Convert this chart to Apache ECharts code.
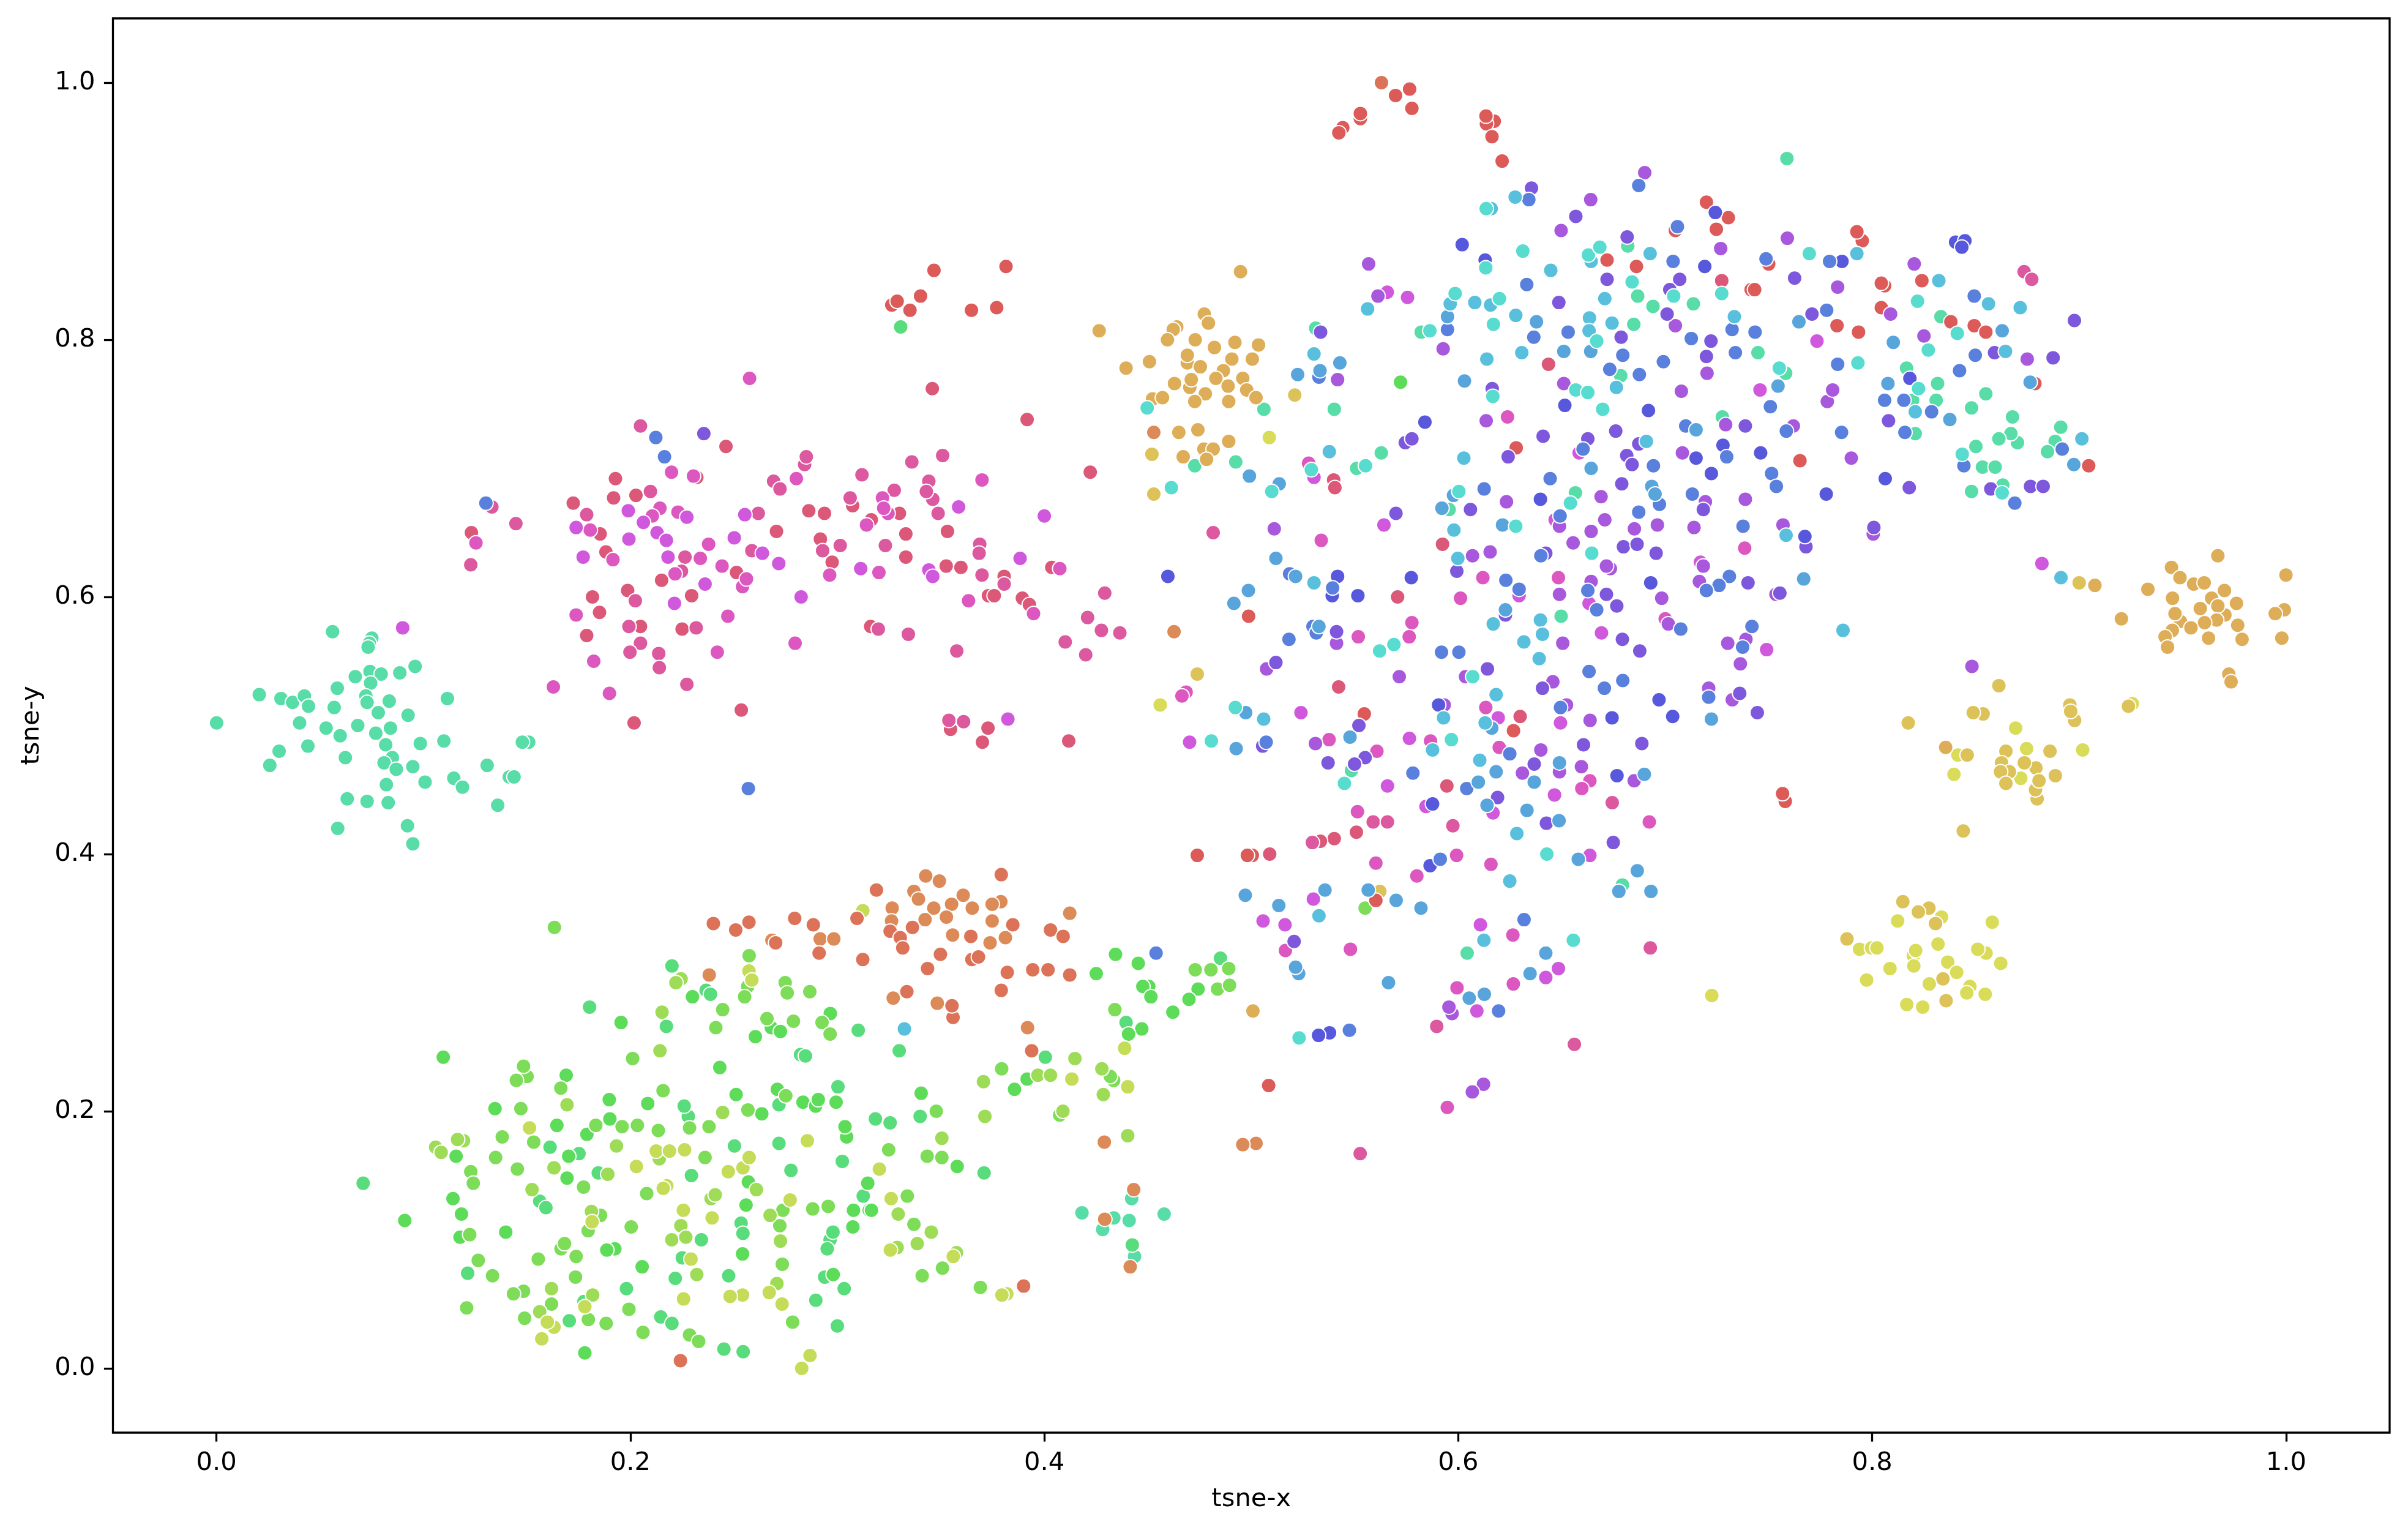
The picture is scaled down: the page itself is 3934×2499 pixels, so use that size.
<!DOCTYPE html>
<html>
<head>
<meta charset="utf-8">
<title>tsne</title>
<style>
  html, body { margin: 0; padding: 0; background: #fff; }
  #chart { width: 3934px; height: 2499px; }
</style>
<script src="https://cdn.jsdelivr.net/npm/echarts@6/dist/echarts.min.js"></script>
</head>
<body>
<div id="chart"></div>
<script>
// tick labels
const tickValues = [0, 0.2, 0.4, 0.6, 0.8, 1.0]

// label order, same order as the hue wheel
const labels = ['te','gt','gr','li','ol','yg','ye','go','ta','or','ro','re','cr','pi','mp','ma','pu','vi','in','bl','sk','cy','aq']

// points are [tsne-x, tsne-y, label], one region at a time
const leftCluster = [
  [.0561,.573,'te'],[.0751,.568,'te'],[.0739,.564,'te'],[.0733,.561,'te'],[.096,.546,'te'],[.0742,.542,'te'],[.0796,.54,'te'],[.0886,.541,'te'],
  [.0671,.538,'te'],[.0745,.533,'te'],[.0584,.529,'te'],[.0207,.524,'te'],[.0312,.521,'te'],[.0368,.518,'te'],[.0425,.523,'te'],[.0445,.515,'te'],
  [.0722,.523,'te'],[.0728,.518,'te'],[.0835,.519,'te'],[.1116,.521,'te'],[.0569,.514,'te'],[.0782,.51,'te'],[.0926,.508,'te'],[.0402,.502,'te'],
  [.0001,.502,'te'],[.053,.498,'te'],[.0683,.5,'te'],[.0841,.498,'te'],[.077,.494,'te'],[.0598,.492,'te'],[.0818,.485,'te'],[.0985,.486,'te'],
  [.1099,.488,'te'],[.0442,.484,'te'],[.0303,.48,'te'],[.0258,.469,'te'],[.0623,.475,'te'],[.085,.475,'te'],[.081,.471,'te'],[.0869,.466,'te'],
  [.0949,.468,'te'],[.1308,.469,'te'],[.1509,.487,'te'],[.1478,.487,'te'],[.1008,.456,'te'],[.0821,.454,'te'],[.1147,.459,'te'],[.1189,.452,'te'],
  [.1415,.46,'te'],[.1438,.46,'te'],[.0632,.443,'te'],[.0728,.441,'te'],[.083,.44,'te'],[.1359,.438,'te'],[.0586,.42,'te'],[.0923,.422,'te'],[.0949,.408,'te']
]

const pinkCluster = [
  [.09,.576,'ma'],[.1628,.53,'mp'],[.1899,.525,'mp'],[.2273,.532,'pi'],[.2536,.512,'cr'],[.2018,.502,'cr'],[.257,.451,'bl'],[.1302,.673,'bl'],[.1331,.67,'pi'],
  [.1447,.657,'pi'],[.1254,.642,'mp'],[.1232,.65,'cr'],[.1229,.625,'pi'],[.2049,.733,'pi'],[.2123,.724,'bl'],[.2355,.727,'vi'],[.2462,.717,'cr'],[.2165,.709,'bl'],
  [.2576,.77,'mp'],[.3459,.762,'cr'],[.3917,.738,'cr'],[.4222,.697,'cr'],[.1928,.692,'cr'],[.2199,.697,'mp'],[.2305,.694,'mp'],[.2321,.693,'cr'],[.1724,.673,'cr'],
  [.1919,.677,'cr'],[.2027,.679,'cr'],[.2097,.682,'pi'],[.2692,.69,'pi'],[.2723,.684,'pi'],[.2842,.703,'pi'],[.285,.709,'pi'],[.2802,.692,'mp'],[.3119,.695,'pi'],
  [.336,.705,'pi'],[.3509,.71,'pi'],[.3699,.691,'mp'],[.3442,.69,'pi'],[.3461,.676,'pi'],[.343,.682,'pi'],[.3275,.683,'pi'],[.3218,.677,'mp'],[.3245,.665,'mp'],
  [.3224,.669,'mp'],[.33,.665,'cr'],[.3062,.677,'pi'],[.3074,.671,'cr'],[.3586,.67,'ma'],[.3487,.665,'pi'],[.1789,.664,'pi'],[.199,.667,'ma'],[.2143,.669,'mp'],
  [.223,.666,'mp'],[.2273,.662,'ma'],[.2106,.663,'mp'],[.2063,.658,'ma'],[.2553,.664,'ma'],[.2618,.665,'pi'],[.2862,.667,'cr'],[.2938,.665,'cr'],[.3141,.656,'mp'],
  [.3164,.66,'cr'],[.1738,.654,'ma'],[.1806,.652,'mp'],[.1854,.649,'cr'],[.2129,.65,'ma'],[.2174,.644,'ma'],[.1993,.645,'ma'],[.2378,.641,'mp'],[.2502,.646,'ma'],
  [.2706,.651,'cr'],[.2929,.636,'pi'],[.2918,.645,'cr'],[.3014,.64,'pi'],[.3232,.64,'pi'],[.3331,.649,'cr'],[.3532,.651,'cr'],[.1772,.631,'ma'],[.1916,.629,'mp'],
  [.1882,.635,'cr'],[.2182,.631,'ma'],[.2264,.631,'pi'],[.2338,.63,'mp'],[.2638,.634,'ma'],[.2587,.636,'pi'],[.2717,.626,'ma'],[.2975,.627,'cr'],[.3331,.631,'cr'],
  [.3688,.641,'pi'],[.3685,.634,'pi'],[.3883,.63,'ma'],[.2443,.624,'mp'],[.2513,.619,'cr'],[.2542,.608,'mp'],[.2561,.614,'mp'],[.2216,.618,'mp'],[.2247,.62,'pi'],
  [.2151,.613,'cr'],[.2361,.61,'ma'],[.2296,.601,'cr'],[.1987,.605,'cr'],[.1817,.6,'cr'],[.2024,.597,'pi'],[.2213,.595,'ma'],[.2825,.6,'ma'],[.1738,.586,'mp'],
  [.1851,.588,'cr'],[.2471,.585,'mp'],[.1993,.577,'pi'],[.2049,.577,'cr'],[.2318,.576,'pi'],[.225,.575,'cr'],[.1789,.57,'cr'],[.2049,.564,'pi'],[.1998,.557,'pi'],
  [.2137,.556,'pi'],[.242,.557,'mp'],[.1823,.55,'mp'],[.214,.545,'pi'],[.2796,.564,'mp'],[.3198,.575,'pi'],[.3161,.577,'cr'],[.3343,.571,'pi'],[.3577,.558,'pi'],
  [.3113,.622,'ma'],[.3201,.619,'mp'],[.2963,.617,'mp'],[.3442,.621,'ma'],[.3461,.616,'ma'],[.3526,.624,'cr'],[.3597,.623,'cr'],[.3699,.617,'pi'],[.3806,.61,'pi'],
  [.3806,.616,'cr'],[.3634,.597,'mp'],[.373,.601,'cr'],[.3758,.601,'cr'],[.3894,.599,'cr'],[.3948,.587,'mp'],[.3928,.594,'cr'],[.4036,.623,'cr'],[.4075,.622,'mp'],
  [.4292,.603,'pi'],[.4209,.584,'pi'],[.4276,.574,'pi'],[.4365,.572,'pi'],[.4101,.565,'pi'],[.42,.555,'pi'],[.4,.663,'ma'],[.4816,.65,'pi'],
  [.3539,.504,'pi'],[.361,.503,'pi'],[.3547,.497,'cr'],[.3728,.498,'cr'],[.3824,.505,'ma'],[.3701,.487,'cr'],[.4118,.488,'cr'],[.4702,.487,'ma'],[.4685,.526,'mp'],[.4665,.523,'mp']
]

const redTop = [
  [.5629,1.0,'ro'],[.5697,.99,'re'],[.5765,.995,'re'],[.5776,.98,'re'],[.5527,.972,'re'],[.5527,.976,'re'],[.5442,.965,'re'],[.5423,.961,'re'],[.6174,.97,'re'],
  [.6136,.968,'re'],[.6134,.974,'re'],[.6163,.958,'re'],[.6212,.939,'re'],[.3467,.854,'re'],[.3815,.857,'re'],[.3402,.834,'re'],[.3263,.827,'re'],[.3289,.83,'re'],
  [.3351,.823,'re'],[.3648,.823,'re'],[.377,.825,'re'],[.3306,.81,'gt']
]

const tanCluster = [
  [.4948,.853,'ta'],[.4265,.807,'ta'],[.4773,.82,'ta'],[.4793,.813,'ta'],[.464,.81,'ta'],[.4623,.808,'ta'],[.4595,.8,'ta'],[.4729,.8,'ta'],[.4822,.794,'ta'],[.4921,.798,'ta'],
  [.5035,.796,'ta'],[.4691,.782,'ta'],[.4691,.788,'ta'],[.4754,.779,'ta'],[.4906,.785,'ta'],[.5005,.785,'ta'],[.4508,.783,'ta'],[.4395,.778,'ta'],[.4865,.776,'ta'],[.4829,.77,'ta'],
  [.4959,.77,'ta'],[.4703,.763,'ta'],[.471,.769,'ta'],[.4629,.766,'ta'],[.4888,.764,'ta'],[.4978,.761,'ta'],[.4778,.758,'ta'],[.5023,.755,'ta'],[.4523,.754,'ta'],[.4571,.755,'ta'],
  [.4727,.752,'ta'],[.4891,.752,'ta'],[.521,.757,'go'],[.4497,.747,'aq'],[.5061,.746,'te'],[.4742,.73,'ta'],[.465,.728,'ta'],[.4529,.728,'or'],[.5087,.724,'ye'],[.4891,.721,'ta'],
  [.4771,.715,'ta'],[.4816,.715,'ta'],[.452,.711,'go'],[.4784,.707,'ta'],[.4671,.709,'ta'],[.4727,.702,'te'],[.4925,.705,'te'],[.4991,.694,'sk'],[.4529,.68,'go'],[.4614,.685,'aq'],
  [.5099,.682,'aq'],[.5135,.688,'sk'],[.4627,.573,'or'],[.4597,.616,'in'],[.4986,.605,'sk'],[.4916,.595,'sk'],[.4987,.585,'re'],[.4739,.54,'go'],[.456,.516,'ye'],
  [.4923,.514,'aq'],[.4973,.51,'sk'],[.506,.505,'cy']
]

const midUpper = [
  [.7588,.941,'te'],[.6901,.93,'pu'],[.6872,.92,'bl'],[.6354,.918,'vi'],[.6275,.911,'cy'],[.6341,.909,'bl'],[.664,.909,'pu'],[.6135,.902,'aq'],[.6159,.902,'cy'],[.7199,.907,'re'],
  [.7242,.899,'in'],[.7305,.895,'re'],[.7059,.888,'bl'],[.7049,.885,'re'],[.7247,.886,'re'],[.6568,.896,'vi'],[.6497,.885,'pu'],[.7952,.877,'re'],[.7926,.884,'re'],[.759,.879,'pu'],
  [.8403,.876,'in'],[.8448,.877,'in'],[.8433,.872,'in'],[.6019,.874,'in'],[.6629,.866,'aq'],[.6684,.872,'aq'],[.6819,.873,'te'],[.6816,.88,'vi'],[.6312,.869,'aq'],[.7268,.871,'pu'],
  [.6642,.861,'cy'],[.6719,.862,'re'],[.6927,.867,'cy'],[.6133,.856,'aq'],[.613,.862,'in'],[.7038,.861,'bl'],[.7191,.857,'in'],[.6861,.857,'re'],[.7487,.863,'bl'],[.75,.859,'re'],
  [.7696,.867,'aq'],[.7794,.861,'bl'],[.7854,.861,'in'],[.7926,.867,'cy'],[.8203,.859,'pu'],[.6447,.854,'cy'],[.5567,.859,'pu'],[.8734,.853,'pi'],[.8771,.847,'pi'],[.6719,.847,'vi'],
  [.707,.847,'vi'],[.7273,.846,'cr'],[.684,.845,'aq'],[.6331,.843,'bl'],[.7625,.848,'vi'],[.7833,.841,'pu'],[.806,.842,'re'],[.8044,.844,'re'],[.824,.846,'re'],[.8322,.846,'cy'],
  [.8493,.834,'bl'],[.7041,.834,'aq'],[.7022,.839,'vi'],[.7273,.836,'aq'],[.7415,.839,'re'],[.7432,.839,'re'],[.6867,.834,'te'],[.5612,.834,'pu'],[.5657,.837,'ma'],[.5755,.833,'ma'],
  [.5985,.836,'aq'],[.5961,.828,'cy'],[.608,.829,'cy'],[.6199,.832,'aq'],[.6156,.827,'cy'],[.6486,.829,'vi'],[.6708,.832,'cy'],[.7136,.828,'te'],[.6941,.826,'te'],[.8562,.828,'cy'],
  [.8715,.825,'cy'],[.8219,.83,'aq'],[.5562,.824,'cy'],[.5948,.818,'sk'],[.6278,.819,'cy'],[.6634,.817,'cy'],[.7009,.82,'vi'],[.7334,.818,'cy'],[.778,.823,'bl'],[.7709,.82,'vi'],
  [.8089,.82,'pu'],[.8044,.825,'re'],[.8332,.818,'te'],[.838,.814,'re'],[.8977,.815,'vi'],[.7646,.814,'sk'],[.6378,.814,'sk'],[.6743,.813,'cy'],[.6848,.812,'te'],[.617,.812,'aq'],
  [.7049,.811,'pu'],[.783,.811,'re'],[.8493,.811,'re'],[.8549,.806,'re'],[.7934,.806,'re'],[.8411,.805,'aq'],[.8628,.807,'sk'],[.5311,.809,'te'],[.5335,.806,'vi'],[.5821,.806,'te'],
  [.5863,.807,'aq'],[.5948,.808,'bl'],[.6531,.806,'bl'],[.6632,.807,'cy'],[.7126,.801,'bl'],[.7221,.799,'vi'],[.7323,.808,'bl'],[.7434,.806,'bl'],[.825,.803,'pu'],[.8102,.798,'sk'],
  [.7733,.799,'ma'],[.6787,.802,'vi'],[.6365,.802,'bl'],[.6669,.799,'aq'],[.8271,.792,'aq'],[.8644,.791,'cy'],[.8498,.788,'bl'],[.8591,.79,'vi'],[.8874,.786,'vi'],[.8749,.785,'pu'],
  [.8422,.776,'bl'],[.7931,.782,'aq'],[.7833,.781,'bl'],[.7448,.79,'te'],[.7339,.79,'bl'],[.7199,.787,'vi'],[.6991,.783,'bl'],[.6795,.788,'bl'],[.664,.791,'sk'],[.651,.791,'sk'],
  [.6307,.79,'cy'],[.6138,.785,'cy'],[.5927,.793,'pu'],[.6436,.781,'cr'],[.6732,.777,'bl'],[.6785,.772,'te'],[.6875,.773,'bl'],[.7202,.774,'pu'],[.7582,.774,'te'],[.7551,.778,'aq'],
  [.8166,.778,'te'],[.8182,.77,'in'],[.8076,.766,'sk'],[.8316,.766,'te'],[.8763,.767,'sk'],[.8786,.766,'re'],[.8224,.762,'aq'],[.7545,.764,'sk'],[.7458,.761,'ma'],[.7783,.752,'pu'],
  [.7809,.761,'pu'],[.8549,.758,'te'],[.806,.753,'bl'],[.8195,.753,'te'],[.8153,.753,'bl'],[.8309,.753,'te'],[.8208,.744,'cy'],[.8287,.744,'bl'],[.848,.747,'te'],[.8678,.74,'te'],
  [.8375,.738,'sk'],[.8911,.732,'te'],[.8079,.737,'vi'],[.8702,.72,'te'],[.867,.727,'te'],[.8612,.723,'te'],[.8208,.727,'te'],[.8158,.728,'bl'],[.7852,.728,'bl'],[.8884,.721,'te'],
  [.8847,.713,'te'],[.8918,.715,'bl'],[.9013,.723,'cy'],[.8501,.717,'te'],[.8435,.711,'aq'],[.8443,.702,'bl'],[.8533,.701,'te'],[.8594,.701,'te'],[.8974,.703,'sk'],[.9046,.702,'re'],
  [.7899,.708,'pu'],[.7651,.706,'re'],[.7585,.729,'bl'],[.7619,.733,'pu'],[.7276,.74,'te'],[.7292,.734,'pu'],[.7387,.733,'vi'],[.7508,.748,'bl'],[.7078,.76,'pu'],[.651,.766,'pu'],
  [.6167,.756,'aq'],[.6164,.762,'vi'],[.603,.768,'sk'],[.6568,.761,'aq'],[.6626,.759,'aq'],[.6764,.763,'cy'],[.6698,.746,'aq'],[.6515,.749,'in'],[.6919,.745,'in'],[.6238,.74,'mp'],
  [.6135,.737,'pu'],[.5839,.736,'in'],[.5744,.72,'vi'],[.5776,.723,'vi'],[.5628,.712,'te'],[.5509,.7,'te'],[.5552,.702,'aq'],[.5377,.713,'cy'],[.529,.699,'aq'],[.5277,.704,'mp'],
  [.5303,.693,'ma'],[.5398,.691,'cr'],[.5404,.685,'cr'],[.5401,.746,'te'],[.5303,.789,'cy'],[.5428,.782,'sk'],[.5224,.773,'sk'],[.5327,.771,'bl'],[.5332,.776,'sk'],[.5417,.769,'pu'],
  [.5721,.767,'gr']
]

const midCore = [
  [.641,.725,'vi'],[.6626,.723,'vi'],[.6761,.729,'vi'],[.6909,.721,'cy'],[.6872,.719,'vi'],[.7099,.733,'bl'],[.7149,.73,'sk'],[.7279,.718,'in'],[.7083,.712,'pu'],[.7149,.708,'in'],
  [.7297,.709,'bl'],[.7461,.712,'in'],[.7514,.696,'bl'],[.7537,.686,'bl'],[.7778,.68,'in'],[.8063,.692,'in'],[.8179,.685,'vi'],[.848,.682,'te'],[.8573,.684,'vi'],[.8631,.687,'te'],
  [.8628,.681,'aq'],[.8765,.686,'vi'],[.8826,.686,'vi'],[.8689,.673,'bl'],[.6241,.709,'vi'],[.628,.716,'re'],[.6027,.708,'cy'],[.6603,.715,'bl'],[.6584,.712,'ma'],[.6814,.71,'vi'],
  [.684,.703,'vi'],[.6943,.702,'bl'],[.6642,.7,'sk'],[.7223,.696,'in'],[.6444,.692,'bl'],[.679,.688,'vi'],[.6935,.686,'sk'],[.6951,.68,'sk'],[.6972,.672,'bl'],[.7131,.68,'bl'],
  [.7184,.668,'vi'],[.7194,.674,'pu'],[.7387,.676,'pu'],[.669,.678,'pu'],[.6566,.681,'te'],[.6542,.673,'aq'],[.6397,.676,'in'],[.6233,.674,'pu'],[.6125,.684,'bl'],[.6003,.682,'aq'],
  [.5977,.679,'sk'],[.6059,.668,'vi'],[.5956,.668,'te'],[.5921,.669,'sk'],[.5699,.665,'vi'],[.5641,.656,'ma'],[.6872,.666,'bl'],[.6708,.66,'pu'],[.6492,.663,'bl'],[.6468,.66,'ma'],
  [.6489,.655,'pu'],[.6214,.656,'sk'],[.6278,.655,'aq'],[.5979,.652,'cy'],[.6962,.656,'pu'],[.6851,.653,'pu'],[.6642,.651,'pu'],[.7139,.654,'pu'],[.7376,.655,'bl'],[.5111,.653,'pu'],
  [.5338,.644,'mp'],[.5924,.641,'cr'],[.6555,.642,'pu'],[.6798,.639,'vi'],[.6864,.641,'vi'],[.7384,.638,'mp'],[.6645,.634,'aq'],[.6956,.634,'vi'],[.6154,.635,'pu'],[.6069,.632,'pu'],
  [.5998,.63,'cy'],[.6399,.632,'bl'],[.6423,.634,'vi'],[.5119,.63,'sk'],[.7184,.624,'pu'],[.717,.627,'ma'],[.6735,.622,'pu'],[.6716,.624,'pu'],[.5993,.62,'vi'],[.5185,.618,'bl'],
  [.5214,.616,'sk'],[.6119,.615,'mp'],[.623,.613,'bl'],[.6294,.606,'bl'],[.6294,.601,'ma'],[.6484,.615,'mp'],[.6642,.612,'pu'],[.6626,.605,'bl'],[.6716,.602,'vi'],[.693,.611,'in'],
  [.7165,.612,'pu'],[.731,.616,'bl'],[.726,.609,'bl'],[.74,.611,'vi'],[.7199,.605,'bl'],[.5417,.616,'in'],[.5303,.611,'cy'],[.5393,.607,'bl'],[.5391,.601,'in'],[.5515,.601,'in'],
  [.5773,.615,'in'],[.5707,.6,'cr'],[.6011,.599,'mp'],[.6489,.602,'pu'],[.6669,.59,'bl'],[.6632,.595,'ma'],[.6766,.593,'vi'],[.6983,.599,'pu'],[.6228,.59,'sk'],[.6228,.586,'vi'],
  [.6169,.579,'cy'],[.6397,.582,'cy'],[.6497,.585,'te'],[.6407,.571,'cy'],[.6317,.565,'cy'],[.6505,.564,'pu'],[.6692,.572,'ma'],[.6793,.567,'vi'],[.6877,.558,'vi'],[.7015,.579,'pu'],
  [.7,.583,'mp'],[.7075,.575,'bl'],[.7419,.577,'bl'],[.7374,.561,'bl'],[.739,.567,'pu'],[.7302,.564,'pu'],[.749,.559,'ma'],[.7363,.548,'pu'],[.5298,.577,'bl'],[.5327,.577,'sk'],
  [.5314,.572,'bl'],[.5412,.573,'vi'],[.5412,.564,'pu'],[.5517,.569,'mp'],[.5182,.567,'bl'],[.5776,.58,'mp'],[.5763,.569,'mp'],[.5689,.563,'aq'],[.562,.558,'aq'],[.5919,.557,'bl'],
  [.6003,.557,'bl'],[.6391,.552,'cy'],[.6632,.542,'bl'],[.6795,.535,'bl'],[.6706,.529,'bl'],[.6141,.544,'vi'],[.607,.538,'aq'],[.6035,.538,'pu'],[.5119,.549,'vi'],[.5074,.544,'pu'],
  [.5715,.538,'pu'],[.5422,.53,'cr'],[.6183,.524,'cy'],[.6407,.529,'vi'],[.6457,.534,'pu'],[.697,.52,'in'],[.721,.522,'bl'],[.721,.529,'pu'],[.736,.525,'vi'],[.7324,.52,'pu'],
  [.7445,.51,'vi'],[.524,.51,'ma'],[.5546,.509,'re'],[.552,.5,'vi'],[.5905,.516,'in'],[.5929,.506,'cy'],[.5932,.516,'pu'],[.6133,.514,'mp'],[.6299,.507,'cr'],[.6193,.506,'ma'],
  [.6162,.498,'sk'],[.613,.502,'cy'],[.6494,.514,'bl'],[.6523,.516,'pu'],[.6494,.502,'ma'],[.6637,.504,'pu'],[.6743,.506,'in'],[.7036,.507,'in'],[.7223,.505,'sk'],[.6267,.496,'re'],
  [.7569,.656,'pu'],[.7584,.648,'cy'],[.7675,.647,'in'],[.768,.639,'vi'],[.8008,.654,'vi'],[.8005,.649,'pu'],[.7669,.614,'sk'],[.7554,.603,'vi'],[.7535,.602,'pu'],[.882,.626,'ma'],
  [.8912,.615,'cy'],[.7859,.574,'cy'],[.8482,.546,'pu'],[.758,.441,'re'],[.7567,.447,'re']
]

const midLower = [
  [.4807,.488,'aq'],[.4927,.482,'sk'],[.5072,.487,'bl'],[.5055,.484,'vi'],[.531,.486,'pu'],[.5376,.489,'mp'],[.5477,.491,'sk'],[.5764,.49,'ma'],[.5876,.481,'cy'],[.5866,.488,'mp'],
  [.5967,.489,'aq'],[.6249,.478,'bl'],[.6198,.483,'mp'],[.6605,.485,'vi'],[.6399,.481,'pu'],[.6367,.47,'vi'],[.6489,.471,'sk'],[.6489,.464,'pu'],[.6595,.468,'pu'],[.6636,.457,'mp'],
  [.6597,.451,'mp'],[.6465,.446,'ma'],[.6367,.456,'sk'],[.631,.463,'pu'],[.6183,.464,'sk'],[.6104,.473,'cy'],[.6097,.456,'sk'],[.6041,.451,'bl'],[.5945,.453,'cr'],[.5781,.463,'bl'],
  [.5658,.453,'ma'],[.5607,.48,'mp'],[.555,.475,'vi'],[.5484,.465,'te'],[.5499,.47,'vi'],[.5371,.471,'vi'],[.545,.455,'aq'],[.6887,.486,'vi'],[.6767,.461,'in'],[.685,.457,'pu'],
  [.6899,.462,'sk'],[.6744,.44,'pi'],[.6749,.409,'vi'],[.6923,.425,'mp'],[.6865,.387,'sk'],[.6793,.376,'te'],[.6776,.371,'sk'],[.6931,.371,'sk'],[.6928,.327,'pi'],[.619,.444,'vi'],
  [.6139,.438,'sk'],[.6168,.432,'ma'],[.5876,.439,'in'],[.5844,.437,'ma'],[.5974,.422,'pi'],[.6332,.434,'sk'],[.6426,.424,'vi'],[.6487,.426,'sk'],[.6283,.416,'cy'],[.5513,.433,'mp'],
  [.5589,.425,'pi'],[.5658,.425,'pi'],[.5508,.417,'cr'],[.5401,.412,'cr'],[.5295,.409,'pi'],[.5334,.41,'cr'],[.6428,.4,'aq'],[.658,.396,'sk'],[.6636,.399,'ma'],[.6158,.392,'mp'],
  [.6249,.379,'cy'],[.5992,.399,'mp'],[.5913,.396,'bl'],[.5864,.391,'in'],[.58,.383,'mp'],[.5602,.393,'mp'],[.5356,.372,'sk'],[.53,.365,'ma'],[.5602,.364,'re'],[.5621,.371,'go'],
  [.5565,.372,'sk'],[.555,.358,'li'],[.57,.364,'sk'],[.582,.358,'sk'],[.5133,.36,'sk'],[.4971,.368,'sk'],[.5005,.399,'re'],[.4981,.399,'re'],[.4739,.399,'re'],[.5089,.4,'cr'],
  [.5327,.352,'cy'],[.5163,.345,'ma'],[.5057,.348,'ma'],[.5207,.332,'vi'],[.5165,.325,'mp'],[.5479,.326,'mp'],[.6107,.345,'ma'],[.6318,.349,'bl'],[.6264,.337,'mp'],[.6124,.333,'cy'],
  [.6043,.323,'te'],[.6423,.323,'sk'],[.6556,.333,'aq'],[.6484,.311,'ma'],[.6423,.304,'ma'],[.6347,.307,'sk'],[.6266,.299,'mp'],[.6126,.291,'sk'],[.5994,.296,'mp'],[.6053,.288,'sk'],
  [.597,.276,'pu'],[.5955,.281,'pu'],[.609,.278,'ma'],[.6195,.278,'bl'],[.5896,.266,'pi'],[.6561,.252,'pi'],[.5474,.263,'bl'],[.5378,.261,'in'],[.5325,.259,'in'],[.5231,.257,'aq'],
  [.5229,.307,'sk'],[.5214,.312,'sk'],[.5663,.3,'sk'],[.6122,.221,'pu'],[.6068,.215,'pu'],[.5947,.203,'mp'],[.5526,.167,'pi'],[.5084,.22,'re'],[.5023,.175,'or'],[.4959,.174,'or'],[.5008,.278,'ta'],[.7225,.29,'ye']
]

const rightClusters = [
  [.967,.632,'ta'],[.9446,.623,'ta'],[.9487,.615,'ta'],[.9553,.61,'ta'],[.9604,.611,'ta'],[.9332,.606,'ta'],[.9702,.605,'ta'],[.9451,.599,'ta'],[.964,.599,'ta'],[.976,.595,'ta'],
  [.9585,.591,'ta'],[.9704,.586,'ta'],[.967,.593,'ta'],[.9489,.581,'ta'],[.9463,.587,'ta'],[.9664,.582,'ta'],[.9606,.58,'ta'],[.954,.576,'ta'],[.945,.574,'ta'],[.9415,.569,'ta'],
  [.9427,.561,'ta'],[.9625,.568,'ta'],[.9766,.578,'ta'],[.9787,.567,'ta'],[.9204,.583,'ta'],[.9076,.609,'ta'],[.9999,.617,'ta'],[.9991,.59,'ta'],[.9947,.587,'ta'],[.9979,.568,'ta'],
  [.9723,.54,'ta'],[.9734,.534,'ta'],[.8355,.483,'ta'],[.8612,.531,'go'],[.8174,.502,'go'],[.8536,.509,'go'],[.8488,.51,'go'],[.8955,.516,'go'],[.8978,.504,'go'],[.8959,.511,'go'],
  [.9238,.515,'go'],[.9257,.517,'ye'],[.8693,.498,'ye'],[.9,.611,'go'],[.8646,.48,'go'],[.8746,.482,'ye'],[.8859,.48,'go'],[.9017,.481,'ye'],[.8459,.477,'go'],[.8414,.477,'ye'],
  [.8395,.462,'ye'],[.8625,.471,'go'],[.8791,.467,'go'],[.8735,.471,'go'],[.8663,.464,'go'],[.862,.464,'go'],[.8718,.459,'ye'],[.8885,.461,'go'],[.8646,.455,'go'],[.8797,.443,'go'],
  [.8789,.45,'go'],[.8806,.457,'go'],[.844,.418,'go'],[.8148,.363,'go'],[.8274,.358,'go'],[.8223,.355,'go'],[.8306,.346,'go'],[.8335,.351,'ye'],[.8123,.348,'ye'],[.858,.347,'ye'],
  [.7878,.334,'go'],[.7939,.326,'ye'],[.7997,.327,'ye'],[.8023,.327,'ye'],[.8318,.33,'ye'],[.8199,.321,'ye'],[.821,.325,'ye'],[.8201,.313,'ye'],[.855,.323,'ye'],[.851,.326,'ye'],
  [.8621,.315,'ye'],[.8086,.311,'ye'],[.8365,.316,'ye'],[.8342,.303,'go'],[.8408,.308,'ye'],[.7973,.302,'ye'],[.8276,.299,'ye'],[.8472,.297,'ye'],[.8457,.292,'ye'],[.8546,.291,'ye'],
  [.8167,.283,'ye'],[.8244,.281,'ye'],[.8357,.286,'go']
]

const orangeBand = [
  [.2401,.346,'ro'],[.2509,.341,'ro'],[.2573,.347,'ro'],[.2794,.35,'ro'],[.2884,.345,'ro'],[.2702,.331,'ro'],[.2684,.333,'or'],[.2917,.334,'or'],[.2983,.334,'or'],[.2912,.323,'ro'],
  [.3095,.35,'ro'],[.2381,.306,'or'],[.3792,.384,'ro'],[.3427,.383,'or'],[.3493,.379,'or'],[.3189,.372,'ro'],[.3608,.368,'or'],[.337,.371,'or'],[.3392,.365,'or'],[.379,.363,'or'],
  [.3748,.361,'or'],[.3552,.361,'or'],[.3265,.358,'or'],[.3466,.358,'or'],[.3652,.358,'or'],[.3123,.356,'yg'],[.3424,.349,'or'],[.3262,.348,'or'],[.3527,.351,'or'],[.3748,.348,'or'],
  [.4123,.354,'or'],[.3848,.345,'ro'],[.3363,.343,'ro'],[.3255,.34,'ro'],[.3304,.335,'ro'],[.403,.341,'ro'],[.4091,.336,'ro'],[.3557,.337,'or'],[.3645,.336,'ro'],[.3812,.335,'or'],
  [.3738,.331,'or'],[.3316,.327,'ro'],[.3498,.322,'ro'],[.3123,.318,'ro'],[.365,.318,'ro'],[.3682,.32,'ro'],[.3436,.311,'ro'],[.3821,.308,'ro'],[.3944,.31,'ro'],[.4018,.31,'ro'],
  [.4123,.306,'ro'],[.3792,.294,'ro'],[.3336,.293,'ro'],[.327,.288,'or'],[.3483,.284,'or'],[.3559,.273,'ro'],[.3554,.282,'ro'],[.3324,.264,'cy'],[.3919,.265,'or'],[.3939,.247,'ro'],
  [.429,.176,'or'],[.4432,.139,'or'],[.4292,.116,'or'],[.39,.064,'ro'],[.2242,.006,'ro']
]

const greenTail = [
  [.4251,.307,'gr'],[.4344,.322,'gr'],[.4454,.315,'gr'],[.454,.323,'bl'],[.4851,.319,'gt'],[.4729,.31,'li'],[.4805,.31,'li'],[.4891,.311,'li'],[.4743,.295,'gr'],[.4837,.295,'li'],
  [.4895,.298,'li'],[.4699,.287,'gr'],[.4505,.297,'gr'],[.4476,.297,'gr'],[.4515,.289,'gr'],[.4621,.277,'gr'],[.4341,.279,'li'],[.4395,.269,'gt'],[.4471,.264,'gr'],[.4407,.26,'gr'],
  [.4388,.249,'yg'],[.3299,.247,'gt'],[.4005,.242,'gt'],[.4148,.241,'ol'],[.3794,.233,'li'],[.3706,.223,'ol'],[.3969,.228,'ol'],[.403,.228,'ol'],[.3917,.225,'gr'],[.3856,.217,'gr'],
  [.4133,.225,'yg'],[.4278,.233,'ol'],[.4335,.224,'li'],[.4319,.227,'li'],[.4403,.219,'yg'],[.4285,.213,'ol'],[.3405,.214,'gr'],[.3478,.2,'li'],[.3184,.194,'gt'],[.3255,.191,'gt'],
  [.34,.196,'gt'],[.3713,.196,'ol'],[.409,.2,'ol'],[.4074,.197,'li'],[.3505,.179,'ol'],[.4403,.181,'ol'],[.3248,.17,'li'],[.3434,.165,'li'],[.3505,.164,'li'],[.3579,.157,'gr'],
  [.3709,.152,'gt'],[.3203,.155,'yg'],[.3147,.144,'gr'],[.3125,.134,'gt'],[.326,.132,'yg'],[.3338,.134,'li'],[.3154,.123,'gr'],[.3294,.12,'ol'],[.337,.112,'li'],[.4422,.132,'te'],
  [.4182,.121,'te'],[.4579,.12,'te'],[.4336,.117,'te'],[.441,.115,'te'],[.4436,.087,'te'],[.4425,.096,'gt'],[.4415,.079,'or'],[.4282,.108,'te'],[.3454,.106,'ol'],[.3386,.097,'ol'],[.3576,.09,'ol'],[.356,.087,'yg'],
  [.3289,.094,'ol'],[.3256,.092,'yg'],[.3508,.078,'li'],[.341,.072,'li'],[.3691,.063,'li'],[.3819,.058,'yg'],[.3795,.057,'yg']
]

const greenMain = [
  [.1633,.343,'li'],[.2574,.321,'li'],[.2573,.309,'yg'],[.2201,.313,'gt'],[.2245,.303,'ol'],[.222,.3,'ol'],[.2587,.302,'yg'],[.2567,.297,'li'],[.2366,.294,'gt'],[.2387,.291,'gt'],
  [.23,.289,'gr'],[.2552,.289,'li'],[.2748,.3,'li'],[.2758,.292,'li'],[.2867,.293,'li'],[.1803,.281,'gt'],[.2446,.279,'li'],[.2153,.277,'ol'],[.1955,.269,'gr'],[.2174,.266,'gt'],
  [.2413,.265,'li'],[.266,.272,'li'],[.2788,.27,'li'],[.2966,.276,'gr'],[.2926,.269,'li'],[.2681,.265,'gr'],[.2725,.262,'gr'],[.2965,.26,'li'],[.2604,.258,'gr'],[.3101,.263,'gt'],
  [.2011,.241,'li'],[.2143,.247,'ol'],[.2822,.244,'gt'],[.2846,.243,'gt'],[.2432,.234,'gr'],[.169,.228,'gr'],[.1664,.218,'li'],[.1694,.205,'ol'],[.2158,.216,'li'],[.1898,.209,'gr'],
  [.2084,.206,'gr'],[.228,.196,'gt'],[.226,.204,'gt'],[.2286,.187,'li'],[.2511,.213,'gr'],[.2446,.199,'ol'],[.238,.188,'li'],[.2568,.201,'li'],[.2635,.198,'gr'],[.2751,.212,'li'],
  [.271,.217,'gr'],[.2718,.205,'gt'],[.2834,.207,'gr'],[.2895,.204,'gr'],[.2908,.209,'gr'],[.3003,.219,'gt'],[.2994,.207,'gr'],[.3045,.18,'gr'],[.3037,.188,'gr'],[.1645,.189,'gr'],
  [.1833,.189,'li'],[.179,.182,'gr'],[.1901,.194,'gr'],[.196,.188,'li'],[.2034,.189,'li'],[.2135,.185,'li'],[.1933,.173,'ol'],[.1612,.172,'gt'],[.1702,.165,'gr'],[.1752,.167,'gt'],
  [.1631,.156,'ol'],[.1694,.148,'gr'],[.1774,.141,'li'],[.1891,.151,'ol'],[.1845,.152,'gt'],[.2029,.157,'yg'],[.2125,.169,'yg'],[.2189,.169,'yg'],[.214,.163,'ol'],[.2262,.17,'yg'],
  [.2361,.164,'li'],[.2503,.173,'gt'],[.2718,.175,'gt'],[.2855,.177,'yg'],[.2544,.156,'yg'],[.2574,.164,'yg'],[.2473,.153,'yg'],[.2295,.15,'gt'],[.2079,.136,'li'],[.2176,.142,'yg'],
  [.2159,.14,'yg'],[.2776,.154,'gt'],[.3024,.161,'gt'],[.2609,.139,'ol'],[.257,.145,'gr'],[.239,.132,'ol'],[.241,.135,'ol'],[.1815,.114,'yg'],[.1812,.122,'ol'],[.1856,.119,'li'],
  [.1796,.107,'li'],[.2004,.11,'li'],[.2256,.123,'yg'],[.2395,.117,'yg'],[.2559,.127,'gr'],[.2772,.131,'yg'],[.2737,.123,'li'],[.2675,.119,'ol'],[.2881,.124,'li'],[.2956,.126,'li'],
  [.3078,.123,'gr'],[.3165,.123,'gr'],[.2535,.113,'gt'],[.2544,.105,'gt'],[.2722,.111,'li'],[.2244,.111,'ol'],[.22,.1,'ol'],[.2268,.102,'ol'],[.2343,.1,'gt'],[.2725,.099,'ol'],
  [.2965,.1,'gt'],[.2979,.106,'gt'],[.2951,.093,'gt'],[.3075,.11,'gr'],[.1665,.093,'li'],[.1682,.097,'li'],[.1738,.087,'li'],[.1925,.093,'gr'],[.1886,.092,'gr'],[.2057,.079,'gr'],
  [.2293,.085,'yg'],[.2251,.086,'gt'],[.2321,.073,'ol'],[.2217,.07,'gt'],[.2542,.089,'gr'],[.2734,.081,'li'],[.1735,.071,'li'],[.2475,.072,'gt'],[.298,.073,'gr'],[.2939,.071,'gt'],
  [.3033,.062,'gt'],[.2708,.066,'ol'],[.2671,.059,'yg'],[.2542,.057,'yg'],[.2482,.056,'yg'],[.2257,.054,'yg'],[.2733,.05,'yg'],[.2896,.053,'gt'],[.1981,.062,'gt'],[.1818,.057,'ol'],
  [.178,.048,'yg'],[.1776,.052,'gt'],[.1993,.046,'li'],[.1797,.038,'li'],[.1705,.037,'gt'],[.1883,.035,'li'],[.1631,.032,'yg'],[.1619,.05,'li'],[.1619,.062,'ol'],[.2061,.028,'li'],
  [.2147,.04,'gt'],[.2201,.035,'gt'],[.2286,.026,'li'],[.233,.021,'li'],[.2452,.015,'gt'],[.2545,.013,'gt'],[.178,.012,'gr'],[.2784,.036,'li'],[.3,.033,'gt'],[.2868,.01,'yg'],[.2828,.0,'yg'],
  [.1096,.242,'gr'],[.0709,.144,'gt'],[.091,.115,'gr'],[.1346,.202,'gr'],[.1471,.202,'li'],[.1501,.227,'li'],[.1484,.235,'li'],[.1449,.224,'li'],[.1381,.18,'li'],[.1513,.187,'yg'],
  [.1533,.176,'li'],[.1194,.177,'ol'],[.1165,.178,'ol'],[.1059,.172,'ol'],[.1086,.168,'ol'],[.1158,.165,'gr'],[.1349,.164,'li'],[.1454,.155,'li'],[.1229,.153,'li'],[.1241,.144,'li'],
  [.1525,.139,'ol'],[.1562,.13,'gt'],[.1592,.125,'gt'],[.1143,.132,'gr'],[.1184,.12,'gr'],[.1224,.104,'li'],[.1177,.102,'gr'],[.1398,.106,'gr'],[.1555,.085,'li'],[.1265,.084,'li'],
  [.1214,.074,'gt'],[.1334,.072,'li'],[.1484,.06,'li'],[.1435,.058,'li'],[.1209,.047,'li'],[.1562,.044,'ol'],[.1489,.039,'li'],[.1599,.036,'yg'],[.1572,.023,'yg']
]

// hue of each label
const labelColors = {
  te: '#58dca8', gt: '#58dc7c', gr: '#5cdc58', li: '#7ddc58', ol: '#9edc58', yg: '#c4dc58', ye: '#d9dc58', go: '#dcc258',
  ta: '#dead58', or: '#dc8b58', ro: '#dc7358', re: '#dc5a58', cr: '#dc5878', pi: '#dc589f', mp: '#dc58c0', ma: '#d058dc',
  pu: '#a858dc', vi: '#7e58dc', in: '#5858dc', bl: '#5880dc', sk: '#58a5dc', cy: '#58c0dc', aq: '#58dcd0'
}

const allPoints = [].concat(leftCluster, pinkCluster, redTop, tanCluster, midUpper, midCore, midLower, rightClusters, orangeBand, greenTail, greenMain)

const myChart = echarts.init(document.getElementById('chart'), null, { renderer: 'canvas' })

const fontFamily = '"DejaVu Sans"'
const axisBase = {
  type: 'value',
  min: -0.05,
  max: 1.05,
  nameLocation: 'middle',
  nameTextStyle: { fontFamily: fontFamily, fontSize: 41.7, color: '#000' },
  splitLine: { show: false },
  // the frame comes from the grid border, keep ticks on the grid edge
  axisLine: { show: false, onZero: false },
  axisTick: { show: true, length: 14.6, lineStyle: { color: '#000', width: 3.3 }, customValues: tickValues },
  axisLabel: {
    fontFamily: fontFamily,
    fontSize: 41.7,
    color: '#000',
    margin: 29,
    customValues: tickValues,
    formatter: (v) => v.toFixed(1),
  },
}

const option = {
  animation: false,
  backgroundColor: '#fff',
  grid: {
    show: true,
    left: 184.5,
    right: 30,
    top: 30,
    bottom: 159,
    borderColor: '#000',
    borderWidth: 3.3,
    backgroundColor: '#fff',
  },
  xAxis: { ...axisBase, name: 'tsne-x', nameGap: 88 },
  yAxis: { ...axisBase, name: 'tsne-y', nameGap: 111 },
  series: labels.map((label) => ({
    type: 'scatter',
    name: label,
    symbolSize: 24,
    itemStyle: { color: labelColors[label], borderColor: '#fff', borderWidth: 2, opacity: 1 },
    data: allPoints.filter((p) => p[2] === label).map((p) => [p[0], p[1]]),
  })),
}

myChart.setOption(option)
</script>
</body>
</html>
